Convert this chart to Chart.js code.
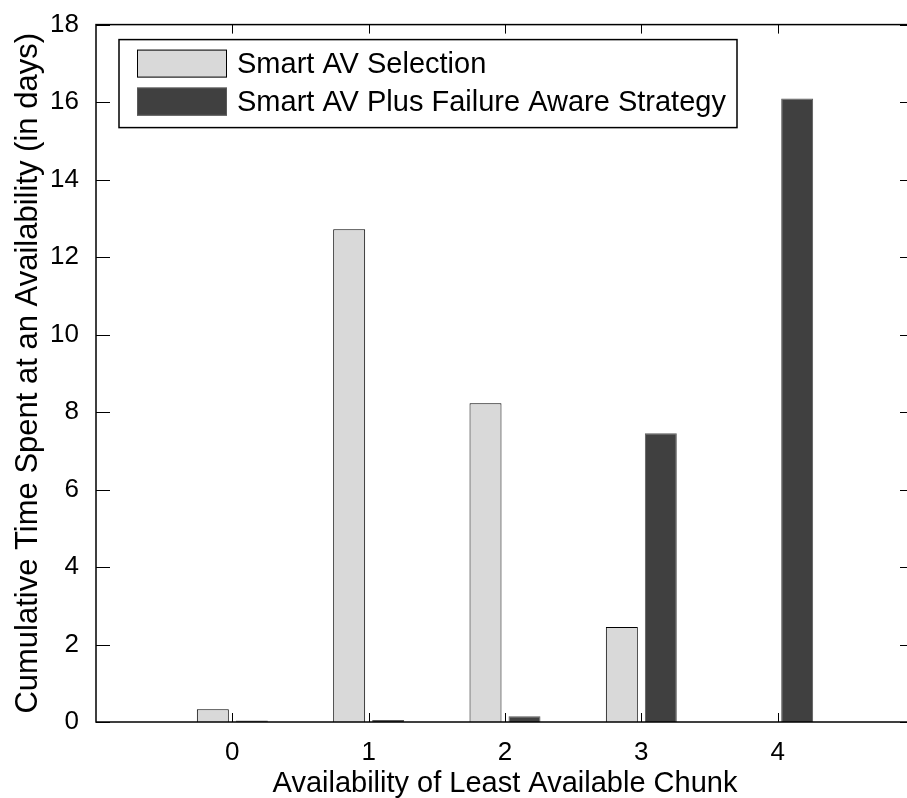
<!DOCTYPE html>
<html>
<head>
<meta charset="utf-8">
<title>Cumulative time at availability</title>
<script src="https://cdn.jsdelivr.net/npm/chart.js@4.4.1/dist/chart.umd.min.js"></script>
<style>
  html, body { margin: 0; padding: 0; background: #fff; overflow: hidden; }
  #wrap { width: 907px; height: 798px; overflow: hidden; }
  canvas { display: block; }
</style>
</head>
<body>
<div id="wrap"><canvas id="myChart" width="925" height="798"></canvas></div>
<script>
// x runs from -1 to 5, only 0..4 carry data
const categories = ['-1', '0', '1', '2', '3', '4', '5'];
const smartAV = [null, 0.33, 12.72, 8.23, 2.45, 0, null];
const failureAware = [null, 0.04, 0.05, 0.15, 7.45, 16.09, null];
const yTicks = [0, 2, 4, 6, 8, 10, 12, 14, 16, 18];
const seriesNames = ['Smart AV Selection', 'Smart AV Plus Failure Aware Strategy'];

const FONT = '"Liberation Sans", Arial, Helvetica, sans-serif';

// matlab style box with inward ticks
const frame = {
  id: 'frame',
  afterDatasetsDraw(chart) {
    const { ctx, chartArea: a, scales } = chart;
    ctx.save();
    ctx.strokeStyle = '#000';
    ctx.lineWidth = 1.5;
    ctx.strokeRect(a.left, a.top, a.right - a.left, a.bottom - a.top);
    ctx.lineWidth = 1;
    ctx.beginPath();
    yTicks.forEach(v => {
      const y = Math.round(scales.y.getPixelForValue(v)) + 0.5;
      ctx.moveTo(a.left, y); ctx.lineTo(a.left + 14, y);
      ctx.moveTo(a.right, y); ctx.lineTo(a.right - 14, y);
    });
    for (let i = 1; i < categories.length - 1; i++) {
      const x = Math.round(scales.x.getPixelForValue(i)) + 0.5;
      ctx.moveTo(x, a.bottom); ctx.lineTo(x, a.bottom - 9);
      ctx.moveTo(x, a.top); ctx.lineTo(x, a.top + 9);
    }
    ctx.stroke();
    ctx.restore();
  }
};

// boxed legend in the upper left corner
const boxLegend = {
  id: 'boxLegend',
  afterDraw(chart) {
    const { ctx, chartArea: a } = chart;
    const x0 = a.left + 23, y0 = a.top + 15;
    ctx.save();
    ctx.fillStyle = '#fff';
    ctx.fillRect(x0, y0, 618, 88);
    ctx.strokeStyle = '#000';
    ctx.lineWidth = 1.5;
    ctx.strokeRect(x0, y0, 618, 88);
    chart.data.datasets.forEach((ds, i) => {
      const sy = y0 + 10 + i * 38;
      ctx.fillStyle = ds.backgroundColor;
      ctx.fillRect(x0 + 18, sy, 90, 28);
      ctx.lineWidth = 1;
      ctx.strokeStyle = ds.borderColor;
      ctx.strokeRect(x0 + 18.5, sy + 0.5, 89, 27);
      ctx.fillStyle = '#000';
      ctx.font = '29px ' + FONT;
      ctx.textBaseline = 'middle';
      ctx.fillText(ds.label, x0 + 118, sy + 15);
    });
    ctx.restore();
  }
};

const ctx = document.getElementById('myChart');
const myChart = new Chart(ctx, {
  type: 'bar',
  data: {
    labels: categories,
    datasets: [
      {
        label: seriesNames[0],
        data: smartAV,
        backgroundColor: '#d9d9d9',
        borderColor: '#000',
        borderWidth: 1,
        borderSkipped: 'start'
      },
      {
        label: seriesNames[1],
        data: failureAware,
        backgroundColor: '#404040',
        borderColor: '#595959',
        borderWidth: 1,
        borderSkipped: 'start'
      }
    ]
  },
  options: {
    responsive: false,
    animation: false,
    devicePixelRatio: 1,
    categoryPercentage: 0.572,
    barPercentage: 0.82,
    layout: { padding: { top: 22, right: 11, left: 0, bottom: 0 } },
    plugins: {
      legend: { display: false },
      tooltip: { enabled: false }
    },
    scales: {
      x: {
        offset: false,
        grid: { display: false },
        border: { display: false },
        ticks: {
          autoSkip: false,
          maxRotation: 0,
          padding: 7,
          color: '#000',
          font: { family: FONT, size: 26 },
          callback: (v, i) => (i === 0 || i === categories.length - 1) ? '' : categories[i]
        },
        title: {
          display: true,
          text: 'Availability of Least Available Chunk',
          color: '#000',
          font: { family: FONT, size: 29, lineHeight: 1.0 },
          padding: { top: 0, bottom: 0 }
        },
        afterFit(scale) { scale.height = 76; }
      },
      y: {
        min: 0,
        max: 18,
        grid: { display: false },
        border: { display: false },
        ticks: {
          stepSize: 2,
          padding: 9,
          color: '#000',
          font: { family: FONT, size: 26 }
        },
        title: {
          display: true,
          text: 'Cumulative Time Spent at an Availability (in days)',
          color: '#000',
          font: { family: FONT, size: 31, lineHeight: 1.0 },
          padding: { top: 13, bottom: 0 }
        },
        afterFit(scale) { scale.width = 96; }
      }
    }
  },
  plugins: [frame, boxLegend]
});
</script>
</body>
</html>
